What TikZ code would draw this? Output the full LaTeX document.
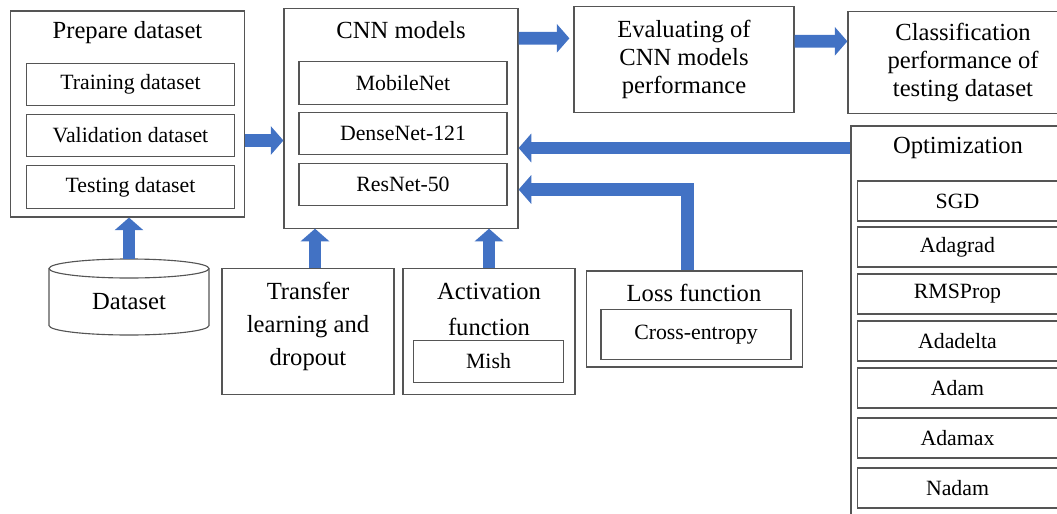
\documentclass[tikz,border=0pt]{standalone}
\usepackage{fontspec}
\setmainfont{Liberation Serif}
\usetikzlibrary{arrows.meta,calc}
\definecolor{arrowblue}{RGB}{66,114,196}
\definecolor{boxgray}{RGB}{85,85,85}
\begin{document}
\begin{tikzpicture}[x=0.025cm,y=-0.025cm, line join=miter,
    box/.style={draw=boxgray, line width=0.8pt, inner sep=0pt},
    bigtxt/.style={font=\fontsize{17.5}{20}\selectfont, align=center},
    smalltxt/.style={font=\fontsize{15.5}{18}\selectfont},
    item/.style={box, smalltxt, minimum width=#1, minimum height=1.07cm},
    blockarrow/.style={draw=arrowblue, line width=9pt, -{Triangle[length=9pt,width=20pt]}}]
    \useasboundingbox (0,0) rectangle (1057,513);
    \clip (0,0) rectangle (1057,513);
    % Prepare dataset
    \node[box, minimum width=5.83cm, minimum height=5.15cm] (prep) at (127.5,114) {};
    \node[bigtxt] (prepttl) at (127.5,33) {Prepare dataset};
    \node[item=5.18cm] (train) at (130.5,84.5) {Training dataset};
    \node[item=5.18cm] (val) at (130.5,135.5) {Validation dataset};
    \node[item=5.18cm] (test) at (130.5,187) {Testing dataset};
    % CNN models
    \node[box, minimum width=5.85cm, minimum height=5.48cm] (cnn) at (401,118.5) {};
    \node[bigtxt] (cnnttl) at (401,30) {CNN models};
    \node[item=5.2cm] (mob) at (403,83) {MobileNet};
    \node[item=5.2cm] (dense) at (403,133.5) {DenseNet-121};
    \node[item=5.2cm] (res) at (403,184.5) {ResNet-50};
    % right column
    \node[box, bigtxt, minimum width=5.5cm, minimum height=2.63cm] (eval) at (684,59.5) {Evaluating of\\CNN models\\performance};
    \node[box, bigtxt, minimum width=5.75cm, minimum height=2.53cm] (cls) at (963,62.5) {Classification\\performance of\\testing dataset};
    \node[box, minimum width=5.35cm, minimum height=10.1cm] (opt) at (958,328) {};
    \node[bigtxt] (optttl) at (958,148) {Optimization};
    \foreach \nm/\yy in {SGD/201, Adagrad/247, RMSProp/294, Adadelta/341, Adam/388, Adamax/438, Nadam/488}
        \node[item=4.98cm, minimum height=1cm] (\nm) at (957.5,\yy) {\nm};
    % bottom row
    \coordinate (datatop) at (129,259);
    \draw[boxgray, line width=0.8pt] (129,268.5) ellipse [x radius=80, y radius=9.5];
    \draw[boxgray, line width=0.8pt] (49,268.5) -- (49,325.5) arc [start angle=180, end angle=0, x radius=80, y radius=9.5] -- (209,268.5);
    \node[bigtxt] (data) at (129,302) {Dataset};
    \node[box, minimum width=4.3cm, minimum height=3.13cm] (trans) at (308,331.5) {};
    \node[bigtxt, font=\fontsize{17.5}{23.5}\selectfont] (transttl) at (308,326) {Transfer\\learning and\\dropout};
    \node[box, minimum width=4.3cm, minimum height=3.13cm] (act) at (489,331.5) {};
    \node[bigtxt, font=\fontsize{17.5}{25}\selectfont] (actttl) at (489,309.5) {Activation\\function};
    \node[item=3.73cm] (mish) at (488.5,361.5) {Mish};
    \node[box, minimum width=5.38cm, minimum height=2.4cm] (loss) at (694.5,319) {};
    \node[bigtxt] (lossttl) at (694,293) {Loss function};
    \node[item=4.75cm, minimum height=1.23cm] (xent) at (696,334.5) {Cross-entropy};
    % arrows
    \coordinate (transtop) at ($(trans.north)+(7,0)$);
    \draw[blockarrow] (datatop) -- (datatop |- prep.south);
    \draw[blockarrow] ($(prep.east |- val)+(0,5)$) -- ($(cnn.west |- val)+(0,5)$);
    \draw[blockarrow] ($(cnn.north east)+(0,30)$) -- ($(eval.north west)+(-4,32)$);
    \draw[blockarrow] ($(eval.north east)+(0,35)$) -- ($(cls.north west)+(0,30)$);
    \draw[blockarrow] (opt.west |- optttl) -- (cnn.east |- optttl);
    \draw[blockarrow] ($(loss.north)+(-7,0)$) |- ($(cnn.east |- res)+(0,5)$);
    \draw[blockarrow] (transtop) -- (transtop |- cnn.south);
    \draw[blockarrow] (act.north) -- (act.north |- cnn.south);
\end{tikzpicture}
\end{document}
